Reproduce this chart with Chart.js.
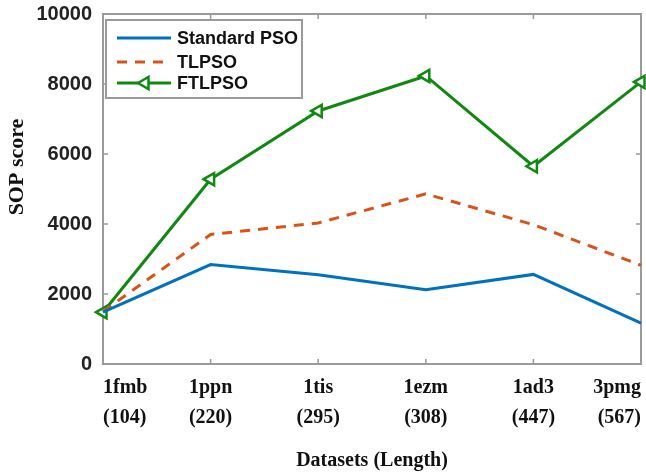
<!DOCTYPE html>
<html>
<head>
<meta charset="utf-8">
<script src="https://cdn.jsdelivr.net/npm/chart.js@4.4.0/dist/chart.umd.min.js"></script>
<style>
  html, body { margin: 0; padding: 0; background: #fff; }
  #wrap { width: 646px; height: 473px; }
</style>
</head>
<body>
<div id="wrap"><canvas id="sopChart" width="646" height="473"></canvas></div>
<script>
// data
const datasetNames = [['1fmb', '(104)'], ['1ppn', '(220)'], ['1tis', '(295)'], ['1ezm', '(308)'], ['1ad3', '(447)'], ['3pmg', '(567)']];
const standardPso = [1480, 2840, 2550, 2120, 2560, 1170];
const tlpso = [1500, 3700, 4030, 4860, 3980, 2820];
const ftlpso = [1480, 5280, 7230, 8230, 5650, 8060];
const yTicks = [0, 2000, 4000, 6000, 8000, 10000];

// box round the plot + inward tick marks (matlab style)
const boxPlugin = {
  id: 'boxPlugin',
  beforeDatasetsDraw(chart) {
    const { ctx, chartArea: a, scales } = chart;
    ctx.save();
    ctx.strokeStyle = '#9a9a9a';
    ctx.lineWidth = 2;
    ctx.strokeRect(a.left, a.top, a.right - a.left, a.bottom - a.top);
    ctx.lineWidth = 1.5;
    ctx.beginPath();
    yTicks.forEach(v => {
      const y = scales.y.getPixelForValue(v);
      ctx.moveTo(a.left, y); ctx.lineTo(a.left + 5, y);
      ctx.moveTo(a.right, y); ctx.lineTo(a.right - 5, y);
    });
    datasetNames.forEach((n, i) => {
      const x = scales.x.getPixelForValue(i);
      ctx.moveTo(x, a.bottom); ctx.lineTo(x, a.bottom - 5);
      ctx.moveTo(x, a.top); ctx.lineTo(x, a.top + 5);
    });
    ctx.stroke();
    ctx.restore();
  }
};

// legend drawn in a bordered box inside the plot
const boxLegend = {
  id: 'boxLegend',
  afterDraw(chart) {
    const { ctx, chartArea: a } = chart;
    const x0 = a.left + 3, y0 = a.top + 6, w = 196, h = 78;
    ctx.save();
    ctx.fillStyle = '#fff';
    ctx.fillRect(x0, y0, w, h);
    ctx.strokeStyle = '#9a9a9a';
    ctx.lineWidth = 2;
    ctx.strokeRect(x0, y0, w, h);
    const rows = [y0 + 18, y0 + 42, y0 + 63];
    chart.data.datasets.forEach((ds, i) => {
      const y = rows[i];
      ctx.strokeStyle = ds.borderColor;
      ctx.lineWidth = ds.borderWidth;
      ctx.setLineDash(ds.borderDash || []);
      ctx.beginPath();
      ctx.moveTo(x0 + 11, y);
      ctx.lineTo(x0 + 65, y);
      ctx.stroke();
      ctx.setLineDash([]);
      if (ds.pointRadius > 0) {
        ctx.save();
        ctx.translate(x0 + 39, y);
        ctx.rotate(-Math.PI / 2);
        const r = ds.pointRadius;
        ctx.beginPath();
        ctx.moveTo(0, -r);
        ctx.lineTo(r * 0.87, r * 0.5);
        ctx.lineTo(-r * 0.87, r * 0.5);
        ctx.closePath();
        ctx.fillStyle = '#fff';
        ctx.fill();
        ctx.lineWidth = ds.pointBorderWidth;
        ctx.stroke();
        ctx.restore();
      }
      ctx.fillStyle = '#111';
      ctx.font = 'bold 18px "Liberation Sans", Arial, sans-serif';
      ctx.textBaseline = 'middle';
      ctx.fillText(ds.label, x0 + 71, y + 1);
    });
    ctx.restore();
  }
};

new Chart(document.getElementById('sopChart'), {
  type: 'line',
  data: {
    labels: datasetNames,
    datasets: [
      {
        label: 'Standard PSO',
        data: standardPso,
        borderColor: '#0072BD',
        borderWidth: 3,
        pointRadius: 0,
        tension: 0
      },
      {
        label: 'TLPSO',
        data: tlpso,
        borderColor: '#D95319',
        borderWidth: 3,
        borderDash: [10, 8],
        pointRadius: 0,
        tension: 0
      },
      {
        label: 'FTLPSO',
        data: ftlpso,
        borderColor: '#118811',
        borderWidth: 3,
        pointRadius: 7,
        pointStyle: 'triangle',
        rotation: -90,
        pointBackgroundColor: '#fff',
        pointBorderColor: '#118811',
        pointBorderWidth: 2.5,
        tension: 0
      }
    ]
  },
  options: {
    responsive: false,
    animation: false,
    layout: { autoPadding: false, padding: { top: 14, right: 5, left: 0, bottom: 0 } },
    plugins: {
      legend: { display: false },
      tooltip: { enabled: false }
    },
    scales: {
      x: {
        type: 'category',
        offset: false,
        grid: { display: false, drawTicks: false },
        border: { display: false },
        ticks: {
          align: 'inner',
          padding: 9,
          maxRotation: 0,
          autoSkip: false,
          color: '#111',
          font: { family: '"Liberation Serif", "Times New Roman", serif', size: 20, weight: 'bold', lineHeight: 1.5 }
        },
        title: {
          display: true,
          text: 'Datasets (Length)',
          color: '#111',
          padding: { top: 0, bottom: 0 },
          font: { family: '"Liberation Serif", "Times New Roman", serif', size: 20, weight: 'bold' }
        },
        afterFit(scale) {
          scale.height = 109;
          scale.paddingLeft = 0;
          scale.paddingRight = 0;
        }
      },
      y: {
        min: 0,
        max: 10000,
        afterBuildTicks(scale) { scale.ticks = yTicks.map(v => ({ value: v })); },
        grid: { display: false, drawTicks: false },
        border: { display: false },
        ticks: {
          padding: 11,
          color: '#222',
          callback: v => String(v),
          font: { family: '"Liberation Sans", Arial, sans-serif', size: 20, weight: 'bold' }
        },
        title: {
          display: true,
          // leading en spaces nudge the rotated title up, as in the figure
          text: '\u2002\u2002\u2002\u2002SOP score',
          color: '#111',
          padding: { top: 4, bottom: 0 },
          font: { family: '"Liberation Serif", "Times New Roman", serif', size: 22, weight: 'bold' }
        },
        afterFit(scale) {
          scale.width = 103;
          scale.paddingTop = 0;
          scale.paddingBottom = 0;
        }
      }
    }
  },
  plugins: [boxPlugin, boxLegend]
});
</script>
</body>
</html>
